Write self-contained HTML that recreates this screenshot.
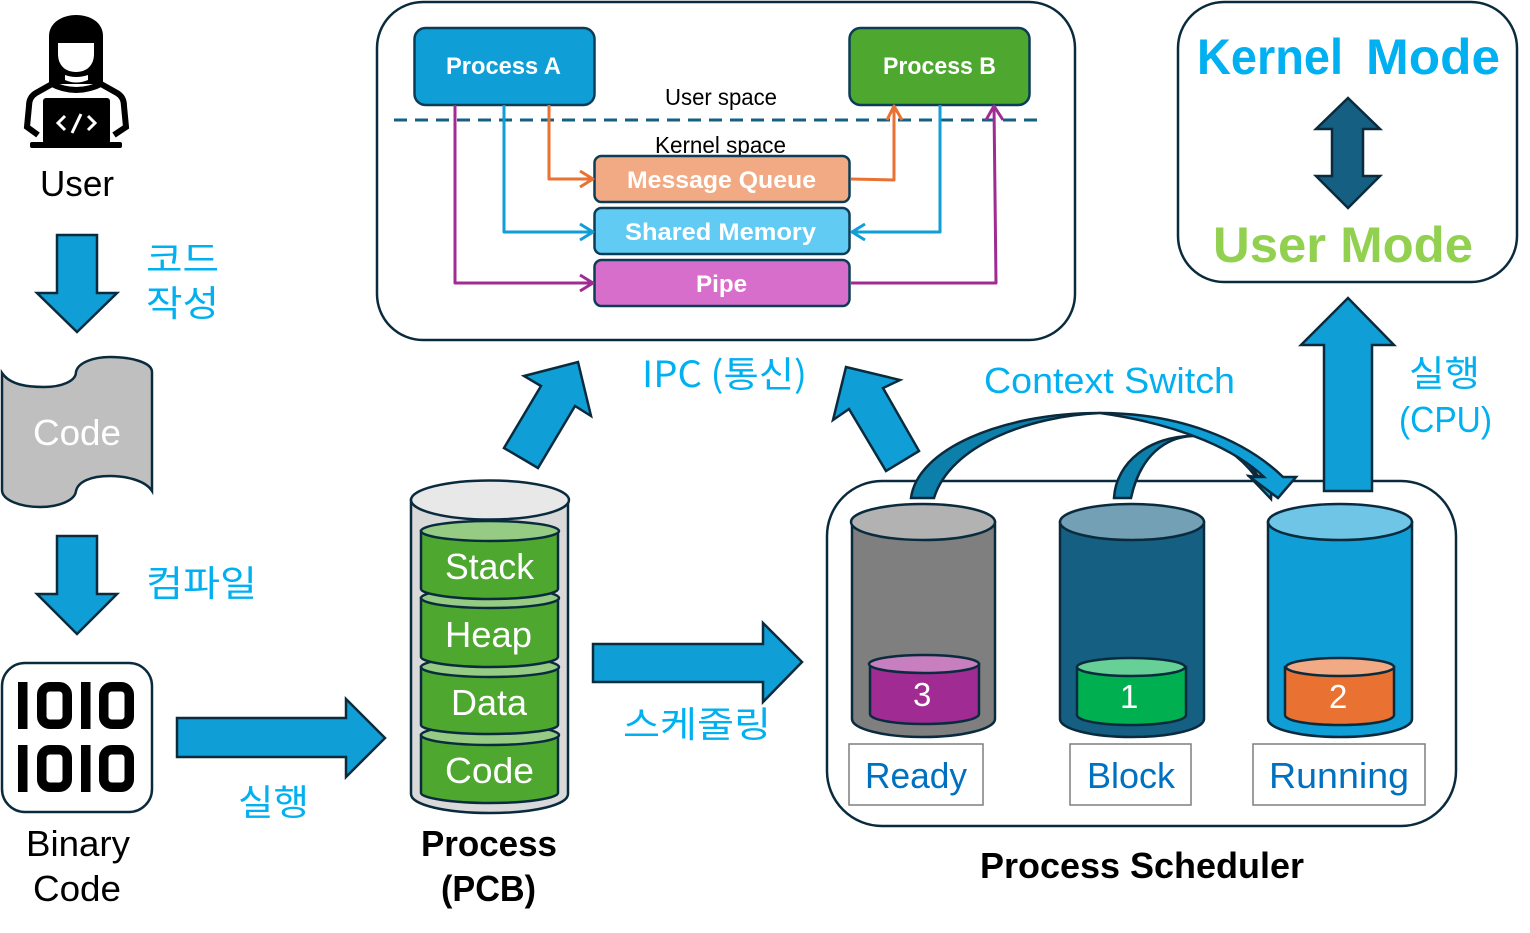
<!DOCTYPE html>
<html><head><meta charset="utf-8"><style>
html,body{margin:0;padding:0;background:#fff;width:1530px;height:933px;overflow:hidden}
svg{display:block}
text{font-family:"Liberation Sans","Noto Sans CJK KR",sans-serif}
.k{font-family:"Noto Sans CJK KR","Liberation Sans",sans-serif}
</style></head><body>
<svg width="1530" height="933" viewBox="0 0 1530 933" xmlns="http://www.w3.org/2000/svg">
<defs><style>
.a{fill:#0f9ed5;stroke:#0a2b3e;stroke-width:2.5;stroke-linejoin:miter}
.o{fill:none;stroke:#0a2b3e;stroke-width:2.5}
.l{fill:none;stroke-width:3;stroke-linejoin:round}
.c{stroke:#0a2b3e;stroke-width:2.5}
.t{fill:#00b0f0;font-size:36px}
.w{fill:#fff;font-size:36px}
</style></defs>

<!-- IPC container -->
<rect x="377" y="2" width="698" height="338" rx="46" fill="#fff" class="o"/>
<rect x="414.500" y="28" width="180" height="77" rx="11" fill="#0f9ed5" stroke="#0b3d56" stroke-width="2.5"/>
<rect x="849.500" y="28" width="180" height="77" rx="11" fill="#4ea72e" stroke="#0b3d56" stroke-width="2.5"/>
<text x="446" y="74" font-size="24" font-weight="700" fill="#fff" textLength="115" lengthAdjust="spacingAndGlyphs">Process A</text>
<text x="883" y="74" font-size="24" font-weight="700" fill="#fff" textLength="113" lengthAdjust="spacingAndGlyphs">Process B</text>
<text x="665" y="105" font-size="23" fill="#000" textLength="112" lengthAdjust="spacingAndGlyphs">User space</text>
<line x1="394" y1="120" x2="1037" y2="120" stroke="#156082" stroke-width="3" stroke-dasharray="13 8"/>
<text x="655" y="153" font-size="23" fill="#000" textLength="131" lengthAdjust="spacingAndGlyphs">Kernel space</text>

<rect x="594.500" y="156" width="255" height="46" rx="7" fill="#f2aa84" stroke="#0b3d56" stroke-width="2.5"/>
<rect x="594.500" y="208" width="255" height="46" rx="7" fill="#61cbf4" stroke="#0b3d56" stroke-width="2.5"/>
<rect x="594.500" y="260" width="255" height="46" rx="7" fill="#d86ecc" stroke="#0b3d56" stroke-width="2.5"/>
<text x="627" y="188" font-size="24" font-weight="700" fill="#fff" textLength="189" lengthAdjust="spacingAndGlyphs">Message Queue</text>
<text x="625" y="240" font-size="24" font-weight="700" fill="#fff" textLength="191" lengthAdjust="spacingAndGlyphs">Shared Memory</text>
<text x="696" y="292" font-size="24" font-weight="700" fill="#fff" textLength="51" lengthAdjust="spacingAndGlyphs">Pipe</text>

<!-- IPC connectors -->
<g class="l" stroke="#e97132">
<path d="M549,105V179H593"/><path d="M580,171L593,179L580,187"/>
<path d="M851,179L894,180V106"/><path d="M887,120L894,106L902,120"/>
</g>
<g class="l" stroke="#0f9ed5">
<path d="M504,105V232H593"/><path d="M580,224L593,232L580,240"/>
<path d="M940,105V232H852"/><path d="M865,224L852,232L865,240"/>
</g>
<g class="l" stroke="#a02b93">
<path d="M455,105V283H593"/><path d="M580,275L593,283L580,291"/>
<path d="M851,283H996L994,106"/><path d="M986,120L994,106L1003,120"/>
</g>

<!-- Mode box -->
<rect x="1178" y="2" width="339" height="280" rx="46" fill="#fff" class="o"/>
<text x="1197" y="74" font-size="50" font-weight="700" fill="#00b0f0" textLength="146" lengthAdjust="spacingAndGlyphs">Kernel</text>
<text x="1366" y="74" font-size="50" font-weight="700" fill="#00b0f0" textLength="134" lengthAdjust="spacingAndGlyphs">Mode</text>
<path d="M1348,98L1380,129H1363V176H1380L1348,208L1316,176H1332V129H1316Z" fill="#156082" stroke="#0a2b3e" stroke-width="2.5"/>
<text x="1213" y="262" font-size="50" font-weight="700" fill="#92d050" textLength="260" lengthAdjust="spacingAndGlyphs">User Mode</text>

<!-- User icon -->
<path d="M49,84V36C49,23 62,15 76,15C91,15 103,23 103,36V84Z" fill="#000"/>
<path d="M58,43H94V54C94,65 87,72 76,72C65,72 58,65 58,54Z" fill="#fff"/>
<path d="M65,75Q76,79 88,75L88,80Q76,85 65,80Z" fill="#fff"/>
<path d="M52,84L36,93Q29,97 29,106L27,127L38,135M101,84L117,93Q124,97 124,106L126,127L114,135M50,83Q76,97 103,83" fill="none" stroke="#000" stroke-width="6"/>
<rect x="43" y="98" width="67" height="46" rx="3" fill="#000"/>
<rect x="30" y="142" width="92" height="6" rx="2" fill="#000"/>
<path d="M65,116L58,123L65,130M88,116L95,123L88,130M81,114L72,133" fill="none" stroke="#fff" stroke-width="3"/>
<text x="40" y="196" font-size="36" fill="#000" textLength="74" lengthAdjust="spacingAndGlyphs">User</text>

<!-- Left arrows -->
<path class="a" d="M57,235H97V293H117L77,332L37,293H57Z"/>
<text class="t k" x="146" y="272" textLength="73" lengthAdjust="spacingAndGlyphs">코드</text>
<text class="t k" x="146" y="316" textLength="73" lengthAdjust="spacingAndGlyphs">작성</text>

<!-- Code doc -->
<path d="M2,373C10,385 28,387 44,387C62,387 76,381 76,372C78,362 95,357 110,357C130,357 152,362 152,372V491C145,480 125,476 110,476C90,476 78,482 76,491C75,500 60,507 40,507C20,507 2,500 2,490Z" fill="#bfbfbf" stroke="#0a2b3e" stroke-width="2.5"/>
<text class="w" x="33" y="445" textLength="88" lengthAdjust="spacingAndGlyphs">Code</text>

<path class="a" d="M57,536H97V594H117L77,634L37,594H57Z"/>
<text class="t k" x="146" y="596" textLength="111" lengthAdjust="spacingAndGlyphs">컴파일</text>

<!-- Binary -->
<rect x="2" y="663" width="150" height="149" rx="23" fill="#fff" class="o"/>
<g fill="#000">
<rect x="18" y="682" width="9.500" height="47"/><rect x="81" y="682" width="9.500" height="47"/>
<rect x="18" y="745" width="9.500" height="47"/><rect x="81" y="745" width="9.500" height="47"/>
</g>
<g fill="none" stroke="#000" stroke-width="9.500">
<rect x="41.750" y="686.750" width="25.500" height="37.500" rx="8"/><rect x="103.750" y="686.750" width="25.500" height="37.500" rx="8"/>
<rect x="41.750" y="749.750" width="25.500" height="37.500" rx="8"/><rect x="103.750" y="749.750" width="25.500" height="37.500" rx="8"/>
</g>
<text x="26" y="856" font-size="36" fill="#000" textLength="104" lengthAdjust="spacingAndGlyphs">Binary</text>
<text x="33" y="901" font-size="36" fill="#000" textLength="88" lengthAdjust="spacingAndGlyphs">Code</text>

<path class="a" d="M177,718H346V699L385,738L346,777V757H177Z"/>
<text class="t k" x="238" y="815" textLength="71" lengthAdjust="spacingAndGlyphs">실행</text>

<!-- PCB -->
<path d="M411,500V794C411,805 446,813 490,813C534,813 568,805 568,794V500Z" fill="#d9d9d9" class="c"/>
<ellipse cx="490" cy="500" rx="79" ry="19.500" fill="#e8e8e8" class="c"/>
<g class="c">
<path d="M421,735V793C421,798 452,803 490,803C528,803 558,798 558,793V735Z" fill="#4ea72e"/><ellipse cx="490" cy="735" rx="69" ry="10" fill="#95cb82"/>
<path d="M421,667V725C421,730 452,734 490,734C528,734 558,730 558,725V667Z" fill="#4ea72e"/><ellipse cx="490" cy="667" rx="69" ry="10" fill="#95cb82"/>
<path d="M421,598V657C421,662 452,667 490,667C528,667 558,662 558,657V598Z" fill="#4ea72e"/><ellipse cx="490" cy="598" rx="69" ry="10" fill="#95cb82"/>
<path d="M421,531V589C421,594 452,599 490,599C528,599 558,594 558,589V531Z" fill="#4ea72e"/><ellipse cx="490" cy="531" rx="69" ry="10" fill="#95cb82"/>
</g>
<text class="w" x="445" y="579" textLength="89" lengthAdjust="spacingAndGlyphs">Stack</text>
<text class="w" x="445" y="647" textLength="87" lengthAdjust="spacingAndGlyphs">Heap</text>
<text class="w" x="451" y="715" textLength="76" lengthAdjust="spacingAndGlyphs">Data</text>
<text class="w" x="445" y="783" textLength="89" lengthAdjust="spacingAndGlyphs">Code</text>
<text x="421" y="856" font-size="36" font-weight="700" fill="#000" textLength="136" lengthAdjust="spacingAndGlyphs">Process</text>
<text x="441" y="901" font-size="36" font-weight="700" fill="#000" textLength="95" lengthAdjust="spacingAndGlyphs">(PCB)</text>

<path class="a" d="M593,644H763V623L802,662L763,702V682H593Z"/>
<text class="t k" x="623" y="737" textLength="148" lengthAdjust="spacingAndGlyphs">스케줄링</text>

<!-- diagonal arrows -->
<path class="a" d="M504,448L541,386L524,376L578,362L591,416L575,406L538,468Z"/>
<path class="a" d="M919,451L883,388L900,380L846,367L833,420L849,409L886,471Z"/>
<text class="t k" x="642" y="387" textLength="165" lengthAdjust="spacingAndGlyphs">IPC (통신)</text>
<text class="t" x="984" y="393" textLength="251" lengthAdjust="spacingAndGlyphs">Context Switch</text>

<!-- Scheduler -->
<rect x="827" y="481" width="629" height="345" rx="55" fill="#fff" class="o"/>
<g class="c">
<path d="M852,522V719C852,729 884,737 923,737C962,737 995,729 995,719V522Z" fill="#7f7f7f"/><ellipse cx="923" cy="522" rx="72" ry="18" fill="#b2b2b2"/>
<path d="M870,664V714C870,720 895,724 924,724C953,724 979,720 979,714V664Z" fill="#a02b93"/><ellipse cx="924" cy="664" rx="55" ry="9" fill="#c77fbf"/>
<path d="M1060,522V719C1060,729 1092,737 1132,737C1172,737 1204,729 1204,719V522Z" fill="#156082"/><ellipse cx="1132" cy="522" rx="72" ry="18" fill="#73a0b4"/>
<path d="M1077,667V715C1077,721 1102,725 1131,725C1160,725 1186,721 1186,715V667Z" fill="#00b050"/><ellipse cx="1131" cy="667" rx="54" ry="9" fill="#66d096"/>
<path d="M1268,522V719C1268,729 1300,737 1340,737C1380,737 1412,729 1412,719V522Z" fill="#0f9ed5"/><ellipse cx="1340" cy="522" rx="72" ry="18" fill="#6fc5e6"/>
<path d="M1285,667V715C1285,721 1310,725 1340,725C1370,725 1394,721 1394,715V667Z" fill="#e97132"/><ellipse cx="1340" cy="667" rx="54" ry="9" fill="#f2aa84"/>
</g>
<text x="913" y="706" font-size="33" fill="#fff">3</text>
<text x="1120" y="708" font-size="33" fill="#fff">1</text>
<text x="1329" y="708" font-size="33" fill="#fff">2</text>
<g fill="#fff" stroke="#7f7f7f" stroke-width="1.500">
<rect x="849" y="744" width="134" height="61"/><rect x="1070" y="744" width="121" height="61"/><rect x="1253" y="744" width="172" height="61"/>
</g>
<text x="865" y="788" font-size="36" fill="#0070c0" textLength="102" lengthAdjust="spacingAndGlyphs">Ready</text>
<text x="1087" y="788" font-size="36" fill="#0070c0" textLength="88" lengthAdjust="spacingAndGlyphs">Block</text>
<text x="1269" y="788" font-size="36" fill="#0070c0" textLength="140" lengthAdjust="spacingAndGlyphs">Running</text>
<text x="980" y="878" font-size="36" font-weight="700" fill="#000" textLength="324" lengthAdjust="spacingAndGlyphs">Process Scheduler</text>

<!-- curved arrows -->
<g stroke="#0a2b3e" stroke-width="2.500" stroke-linejoin="miter">
<path d="M1193,436C1222,438 1244,456 1258,476L1272,476L1271,499L1249,476L1256,477C1240,456 1215,438 1193,436Z" fill="#0f9ed5"/>
<path d="M1114,498C1116,462 1150,436 1193,436C1165,437 1140,456 1131,498Z" fill="#0c7fab"/>
<path d="M1100,413C1180,413 1245,440 1283,477H1296L1278,498L1250,477H1264C1238,452 1185,425 1100,413Z" fill="#0f9ed5"/>
<path d="M911,498C917,450 1000,413 1100,413C1030,416 950,445 934,498Z" fill="#0c7fab"/>
</g>

<!-- Up arrow -->
<path class="a" d="M1324,491V345H1301L1348,298L1394,345H1372V491Z"/>
<text class="t k" x="1409" y="386" textLength="71" lengthAdjust="spacingAndGlyphs">실행</text>
<text class="t" x="1399" y="432" textLength="93" lengthAdjust="spacingAndGlyphs">(CPU)</text>
</svg>
</body></html>
